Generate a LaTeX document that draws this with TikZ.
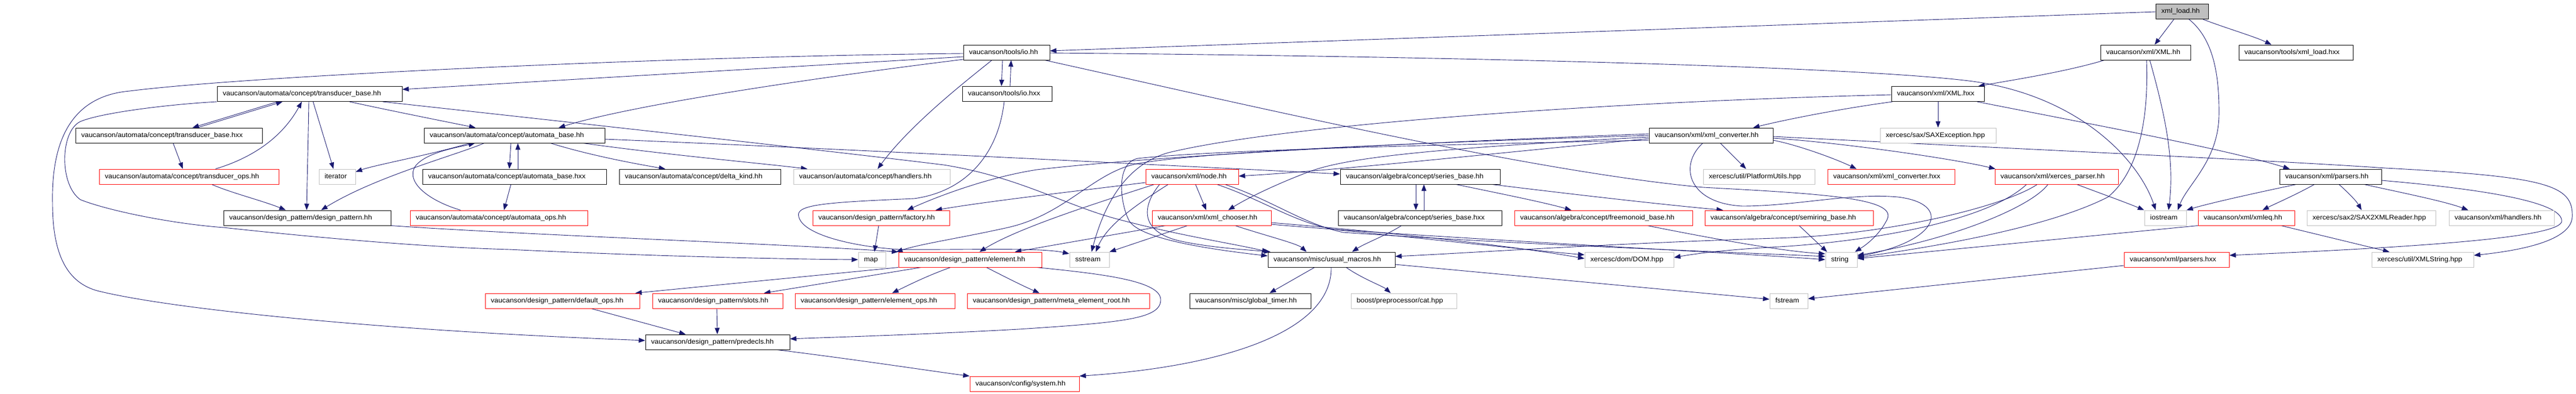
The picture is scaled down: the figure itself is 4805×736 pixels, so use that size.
\documentclass[tikz,border=0pt]{standalone}
\usepackage{fontspec}
\setmainfont{Liberation Sans}
\usepackage{graphicx}
\usetikzlibrary{arrows.meta}
\pgfdeclarelayer{bg}
\pgfsetlayers{bg,main}
\definecolor{edgec}{HTML}{191970}
\definecolor{grayb}{HTML}{BFBFBF}
\newcommand{\lbl}[1]{\scalebox{1.065}[1]{#1}}
\newcommand{\nd}[6]{\node[#5,minimum width={#3-#2}] (#1) at ({(#2+#3)/2},#4) {\makebox[\dimexpr #3pt-#2pt-21pt\relax][l]{\lbl{#6}}};}
\begin{document}
\begin{tikzpicture}[x=1pt,y=-1pt,
  basebox/.style={rectangle,line width=1pt,fill=white,inner sep=0pt,minimum height=28pt,text height=9pt,text depth=2.6pt,font=\fontsize{12.5}{15}\selectfont,anchor=center},
  blk/.style={basebox,draw=black},
  rd/.style={basebox,draw=red},
  gry/.style={basebox,draw=grayb},
  loadbox/.style={basebox,draw=black,fill=grayb},
  e/.style={draw=edgec,line width=0.9pt,-{Triangle[length=12pt,width=9pt]}}]
\useasboundingbox (0,0) rectangle (4805,736);
% nodes
\nd{xmlload}{4021}{4119}{21.5}{loadbox}{xml\_load.hh}
\nd{ioh}{1797}{1958}{98}{blk}{vaucanson/tools/io.hh}
\nd{xmlh}{3918}{4086}{98}{blk}{vaucanson/xml/XML.hh}
\nd{xmlloadhxx}{4176}{4389}{98}{blk}{vaucanson/tools/xml\_load.hxx}
\nd{tbh}{405}{750}{175.5}{blk}{vaucanson/automata/concept/transducer\_base.hh}
\nd{iohxx}{1795}{1962}{175.5}{blk}{vaucanson/tools/io.hxx}
\nd{xmlhxx}{3528}{3701}{175.5}{blk}{vaucanson/xml/XML.hxx}
\nd{tbhxx}{141}{489}{253}{blk}{vaucanson/automata/concept/transducer\_base.hxx}
\nd{abh}{791}{1128}{253}{blk}{vaucanson/automata/concept/automata\_base.hh}
\nd{xconv}{3076}{3307}{253}{blk}{vaucanson/xml/xml\_converter.hh}
\nd{saxexc}{3507}{3723}{253}{gry}{xercesc/sax/SAXException.hpp}
\nd{tops}{185}{520}{330}{rd}{vaucanson/automata/concept/transducer\_ops.hh}
\nd{iterator}{595}{663}{330}{gry}{iterator}
\nd{abhxx}{788}{1131}{330}{blk}{vaucanson/automata/concept/automata\_base.hxx}
\nd{delta}{1155}{1456}{330}{blk}{vaucanson/automata/concept/delta\_kind.hh}
\nd{handlersA}{1480}{1772}{330}{gry}{vaucanson/automata/concept/handlers.hh}
\nd{xnode}{2137}{2310}{330}{rd}{vaucanson/xml/node.hh}
\nd{sbh}{2500}{2798}{330}{blk}{vaucanson/algebra/concept/series\_base.hh}
\nd{platf}{3177}{3385}{330}{gry}{xercesc/util/PlatformUtils.hpp}
\nd{xconvhxx}{3409}{3646}{330}{rd}{vaucanson/xml/xml\_converter.hxx}
\nd{xparser}{3721}{3951}{330}{rd}{vaucanson/xml/xerces\_parser.hh}
\nd{parsers}{4252}{4442}{330}{blk}{vaucanson/xml/parsers.hh}
\nd{dp}{417}{729}{407}{blk}{vaucanson/design\_pattern/design\_pattern.hh}
\nd{aops}{765}{1096}{407}{rd}{vaucanson/automata/concept/automata\_ops.hh}
\nd{factory}{1516}{1771}{407}{rd}{vaucanson/design\_pattern/factory.hh}
\nd{chooser}{2149}{2371}{407}{rd}{vaucanson/xml/xml\_chooser.hh}
\nd{sbhxx}{2496}{2801}{407}{blk}{vaucanson/algebra/concept/series\_base.hxx}
\nd{freemon}{2825}{3157}{407}{rd}{vaucanson/algebra/concept/freemonoid\_base.hh}
\nd{semiring}{3180}{3494}{407}{rd}{vaucanson/algebra/concept/semiring\_base.hh}
\nd{iostream}{4000}{4078}{407}{gry}{iostream}
\nd{xmleq}{4100}{4280}{407}{rd}{vaucanson/xml/xmleq.hh}
\nd{sax2}{4303}{4543}{407}{gry}{xercesc/sax2/SAX2XMLReader.hpp}
\nd{handlersX}{4568}{4764}{407}{gry}{vaucanson/xml/handlers.hh}
\nd{map}{1601}{1652}{485}{gry}{map}
\nd{element}{1676}{1943}{485}{rd}{vaucanson/design\_pattern/element.hh}
\nd{sstream}{1995}{2069}{485}{gry}{sstream}
\nd{macros}{2365}{2602}{485}{blk}{vaucanson/misc/usual\_macros.hh}
\nd{dom}{2956}{3122}{485}{gry}{xercesc/dom/DOM.hpp}
\nd{string}{3405}{3464}{485}{gry}{string}
\nd{parsershxx}{3962}{4158}{485}{rd}{vaucanson/xml/parsers.hxx}
\nd{xmlstring}{4424}{4614}{485}{gry}{xercesc/util/XMLString.hpp}
\nd{defops}{905}{1193}{562}{rd}{vaucanson/design\_pattern/default\_ops.hh}
\nd{slots}{1217}{1460}{562}{rd}{vaucanson/design\_pattern/slots.hh}
\nd{elops}{1483}{1781}{562}{rd}{vaucanson/design\_pattern/element\_ops.hh}
\nd{meta}{1804}{2144}{562}{rd}{vaucanson/design\_pattern/meta\_element\_root.hh}
\nd{timer}{2219}{2445}{562}{blk}{vaucanson/misc/global\_timer.hh}
\nd{cat}{2520}{2717}{562}{gry}{boost/preprocessor/cat.hpp}
\nd{fstream}{3301}{3372}{562}{gry}{fstream}
\nd{predecls}{1204}{1473}{639}{blk}{vaucanson/design\_pattern/predecls.hh}
\nd{system}{1809}{2013}{717}{rd}{vaucanson/config/system.hh}
\begin{pgfonlayer}{bg}
\fill[white] (0,0) rectangle (4805,736);
% xml_load.hh
\draw[e] (xmlload.west |- 0,22) -- (ioh.east |- 0,95);
\draw[e] (xmlload.south -| 4055,0) -- (xmlh.north -| 4019,0);
\draw[e] (xmlload.south -| 4109,0) .. controls (4150,52) and (4205,68) .. (xmlloadhxx.north -| 4237,0);
\draw[e] (xmlload.south -| 4083,0) .. controls (4125,70) and (4140,130) .. (4139,215) .. controls (4138,300) and (4080,345) .. (iostream.north -| 4062,0);
% io.hh
\draw[e] (ioh.south -| 1870,0) -- (iohxx.north -| 1868,0);
\draw[e] (iohxx.north -| 1884,0) -- (ioh.south -| 1886,0);
\draw[e] (ioh.west |- 0,106) -- (tbh.east |- 0,167);
\draw[e] (ioh.west |- 0,100) .. controls (1300,104) and (480,140) .. (242,170) .. controls (150,178) and (95,240) .. (98,380) .. controls (98,480) and (128,528) .. (181,543) .. controls (320,578) and (720,618) .. (predecls.west |- 0,636);
\draw[e] (ioh.west |- 0,111) .. controls (1600,135) and (1200,190) .. (abh.north -| 1042,0);
\draw[e] (ioh.south -| 1850,0) .. controls (1810,145) and (1700,230) .. (handlersA.north -| 1637,0);
\draw[e] (ioh.east |- 0,99) .. controls (2600,104) and (3450,122) .. (3680,152) .. controls (3880,180) and (3990,300) .. (iostream.north -| 4021,0);
\draw[e] (ioh.south -| 1949,0) .. controls (2300,190) and (2850,320) .. (3177,350) .. controls (3400,362) and (3540,370) .. (3520,410) .. controls (3505,440) and (3480,458) .. (string.north -| 3460,0);
% io.hxx
\draw[e] (iohxx.south -| 1873,0) .. controls (1862,290) and (1800,358) .. (1705,371) .. controls (1540,378) and (1482,382) .. (1490,405) .. controls (1498,440) and (1600,462) .. (1680,466) .. controls (1800,467) and (1940,462) .. (sstream.west |- 0,474);
% transducer_base
\draw[e] (tbh.south -| 518,0) -- (tbhxx.north -| 359,0);
\draw[e] (tbhxx.north -| 368,0) -- (tbh.south -| 527,0);
\draw[e] (tops.north -| 402,0) .. controls (480,292) and (530,250) .. (tbh.south -| 563,0);
\draw[e] (tbh.south -| 576,0) .. controls (575,260) and (573,330) .. (dp.north -| 572,0);
\draw[e] (tbh.south -| 584,0) -- (iterator.north -| 622,0);
\draw[e] (tbh.south -| 652,0) .. controls (720,205) and (820,225) .. (abh.north -| 887,0);
\draw[e] (tbh.south -| 714,0) .. controls (850,205) and (1500,276) .. (1760,308) .. controls (1900,330) and (1990,385) .. (2087,410) .. controls (2200,440) and (2300,455) .. (macros.north -| 2366,0);
\draw[e] (tbh.south west) .. controls (300,196) and (185,212) .. (150,227) .. controls (112,245) and (110,345) .. (150,373) .. controls (200,393) and (320,418) .. (417,425) .. controls (600,445) and (800,462) .. (950,466) .. controls (1200,478) and (1450,484) .. (map.west);
\draw[e] (tbhxx.south -| 323,0) -- (tops.north -| 341,0);
\draw[e] (tops.south -| 395,0) .. controls (430,360) and (490,375) .. (dp.north -| 533,0);
% automata_base
\draw[e] (abh.south -| 953,0) -- (abhxx.north -| 950,0);
\draw[e] (abhxx.north -| 966,0) -- (abh.south -| 966,0);
\draw[e] (abh.south -| 1027,0) .. controls (1100,290) and (1180,305) .. (delta.north -| 1241,0);
\draw[e] (abh.south -| 1088,0) .. controls (1250,290) and (1420,305) .. (handlersA.north -| 1506,0);
\draw[e] (abh.south -| 876,0) .. controls (800,290) and (700,308) .. (iterator.east |- 0,321);
\draw[e] (abh.south -| 903,0) .. controls (850,290) and (700,330) .. (dp.north -| 599,0);
\draw[e] (aops.north -| 859,0) .. controls (800,375) and (755,340) .. (775,310) .. controls (795,285) and (850,276) .. (abh.south -| 886,0);
\draw[e] (abh.east |- 0,260) .. controls (1500,275) and (2100,305) .. (sbh.west |- 0,325);
\draw[e] (abhxx.south -| 953,0) -- (aops.north -| 940,0);
% design pattern
\draw[e] (dp.south east) .. controls (1000,440) and (1450,455) .. (element.north west);
\draw[e] (factory.south -| 1639,0) -- (map.north -| 1631,0);
\draw[e] (element.south west) -- (defops.north -| 1185,0);
\draw[e] (element.south -| 1718,0) -- (slots.north -| 1425,0);
\draw[e] (element.south -| 1773,0) .. controls (1730,515) and (1700,530) .. (elops.north -| 1664,0);
\draw[e] (element.south -| 1840,0) .. controls (1880,520) and (1910,535) .. (meta.north -| 1939,0);
\draw[e] (element.south -| 1934,0) .. controls (2060,512) and (2165,525) .. (2165,560) .. controls (2165,595) and (2100,602) .. (1900,615) .. controls (1700,626) and (1550,630) .. (predecls.east |- 0,633);
\draw[e] (defops.south -| 1103,0) -- (predecls.north -| 1279,0);
\draw[e] (slots.south -| 1337,0) -- (predecls.north -| 1338,0);
\draw[e] (predecls.south -| 1450,0) .. controls (1600,672) and (1750,695) .. (system.north west);
% usual_macros
\draw[e] (macros.south -| 2483,0) .. controls (2485,620) and (2280,685) .. (system.north east);
\draw[e] (macros.south -| 2452,0) -- (timer.north -| 2368,0);
\draw[e] (macros.south -| 2511,0) .. controls (2540,520) and (2580,535) .. (cat.north -| 2594,0);
\draw[e] (macros.east |- 0,494) -- (fstream.west |- 0,559);
% node.hh
\draw[e] (xnode.west |- 0,341) .. controls (2000,358) and (1850,375) .. (factory.north -| 1745,0);
\draw[e] (xnode.south -| 2153,0) .. controls (2050,378) and (1900,425) .. (element.north -| 1827,0);
\draw[e] (xnode.south -| 2179,0) .. controls (2120,382) and (2065,420) .. (sstream.north -| 2044,0);
\draw[e] (xnode.south -| 2230,0) -- (chooser.north -| 2250,0);
\draw[e] (xnode.south -| 2163,0) .. controls (2130,385) and (2125,432) .. (2200,450) .. controls (2260,463) and (2320,466) .. (macros.north -| 2370,0);
\draw[e] (xnode.south -| 2270,0) .. controls (2360,375) and (2420,420) .. (2500,430) .. controls (2700,450) and (2860,468) .. (dom.west |- 0,476);
\draw[e] (xnode.south -| 2285,0) .. controls (2375,375) and (2430,418) .. (2505,434) .. controls (2800,455) and (3200,470) .. (string.west |- 0,479);
% xml_chooser
\draw[e] (chooser.south -| 2174,0) -- (element.north -| 1893,0);
\draw[e] (chooser.south -| 2215,0) -- (sstream.north east);
\draw[e] (chooser.south -| 2304,0) .. controls (2360,440) and (2420,455) .. (macros.north -| 2437,0);
\draw[e] (chooser.east |- 0,416) .. controls (2500,426) and (2800,455) .. (dom.west |- 0,483);
\draw[e] (chooser.east |- 0,419) .. controls (2600,440) and (3200,470) .. (string.west |- 0,485);
% series
\draw[e] (sbh.south -| 2641,0) -- (sbhxx.north -| 2641,0);
\draw[e] (sbhxx.north -| 2656,0) -- (sbh.south -| 2656,0);
\draw[e] (sbh.south -| 2716,0) .. controls (2800,362) and (2880,378) .. (freemon.north -| 2931,0);
\draw[e] (sbh.south -| 2783,0) .. controls (2950,365) and (3100,382) .. (semiring.north -| 3214,0);
\draw[e] (sbhxx.south -| 2614,0) .. controls (2585,440) and (2545,455) .. (macros.north -| 2522,0);
\draw[e] (semiring.south -| 3356,0) -- (string.north -| 3408,0);
\draw[e] (freemon.south -| 3073,0) .. controls (3200,447) and (3330,470) .. (string.west |- 0,474);
% xml_converter
\draw[e] (xconv.west |- 0,259) .. controls (2800,285) and (2500,318) .. (xnode.east |- 0,329);
\draw[e] (xconv.west |- 0,256) .. controls (2700,276) and (2520,292) .. (2444,320) .. controls (2390,340) and (2330,368) .. (chooser.north -| 2291,0);
\draw[e] (xconv.west |- 0,250) .. controls (2600,268) and (2150,292) .. (1934,317) .. controls (1850,330) and (1760,362) .. (factory.north -| 1692,0);
\draw[e] (xconv.west |- 0,253) .. controls (2600,268) and (2250,284) .. (2125,305) .. controls (2040,320) and (1990,400) .. (1880,425) .. controls (1790,445) and (1720,455) .. ([xshift=-4pt]element.north west);
\draw[e] (xconv.west |- 0,262) .. controls (2600,272) and (2250,282) .. (2122,296) .. controls (2080,305) and (2090,380) .. (2105,410) .. controls (2120,445) and (2250,465) .. (macros.west |- 0,478);
\draw[e] (xconv.south -| 3209,0) -- (platf.north -| 3257,0);
\draw[e] (xconv.east |- 0,262) .. controls (3350,270) and (3420,295) .. (xconvhxx.north -| 3463,0);
\draw[e] (xconv.east |- 0,258) .. controls (3450,268) and (3650,298) .. (xparser.north -| 3722,0);
\draw[e] (xconv.east |- 0,255) .. controls (3700,275) and (4250,300) .. (4450,314) .. controls (4750,330) and (4800,345) .. (4798,405) .. controls (4796,450) and (4700,468) .. (xmlstring.east |- 0,477);
\draw[e] (xconv.south -| 3176,0) .. controls (3130,310) and (3150,380) .. (3250,385) .. controls (3350,385) and (3450,360) .. (3540,368) .. controls (3640,380) and (3620,450) .. (string.east |- 0,479);
% XML.hh
\draw[e] (xmlh.south -| 3925,0) .. controls (3850,135) and (3750,150) .. (xmlhxx.north -| 3690,0);
\draw[e] (xmlh.south -| 4004,0) .. controls (4008,220) and (3990,320) .. (3932,368) .. controls (3850,410) and (3700,448) .. (string.east |- 0,481);
\draw[e] (xmlh.south -| 4010,0) .. controls (4040,220) and (4056,300) .. (iostream.north -| 4045,0);
% XML.hxx
\draw[e] (xmlhxx.south -| 3615,0) -- (saxexc.north -| 3615,0);
\draw[e] (xmlhxx.south -| 3530,0) .. controls (3420,205) and (3320,226) .. (xconv.north -| 3270,0);
\draw[e] (xmlhxx.west |- 0,177) .. controls (3000,190) and (2400,232) .. (2180,285) .. controls (2090,310) and (2055,400) .. (sstream.north -| 2036,0);
\draw[e] (xmlhxx.south -| 3688,0) .. controls (3900,232) and (4150,278) .. (parsers.north -| 4271,0);
% xerces_parser
\draw[e] (xparser.south -| 3874,0) .. controls (3920,362) and (3965,378) .. (iostream.north west);
\draw[e] (xparser.south -| 3820,0) .. controls (3790,385) and (3650,445) .. (string.east |- 0,477);
\draw[e] (xparser.south -| 3800,0) .. controls (3740,385) and (3520,440) .. (3310,445) .. controls (3000,455) and (2750,472) .. (macros.east |- 0,479);
\draw[e] (xparser.south -| 3780,0) .. controls (3700,420) and (3450,455) .. (3300,462) .. controls (3200,468) and (3150,476) .. (dom.east |- 0,481);
% parsers
\draw[e] (parsers.south -| 4283,0) .. controls (4200,362) and (4120,380) .. (iostream.north east);
\draw[e] (parsers.south -| 4317,0) .. controls (4280,365) and (4245,380) .. (xmleq.north -| 4220,0);
\draw[e] (parsers.south -| 4363,0) .. controls (4380,360) and (4395,375) .. (sax2.north -| 4405,0);
\draw[e] (parsers.south -| 4410,0) .. controls (4480,360) and (4560,376) .. (handlersX.north -| 4604,0);
\draw[e] (parsers.east |- 0,337) .. controls (4650,355) and (4785,380) .. (4778,415) .. controls (4765,445) and (4500,462) .. (parsershxx.east |- 0,477);
\draw[e] (xmleq.south west) -- (string.east |- 0,483);
\draw[e] (xmleq.south -| 4255,0) -- (xmlstring.north -| 4457,0);
\draw[e] (parsershxx.west |- 0,496) -- (fstream.east |- 0,558);
\end{pgfonlayer}
\end{tikzpicture}
\end{document}
